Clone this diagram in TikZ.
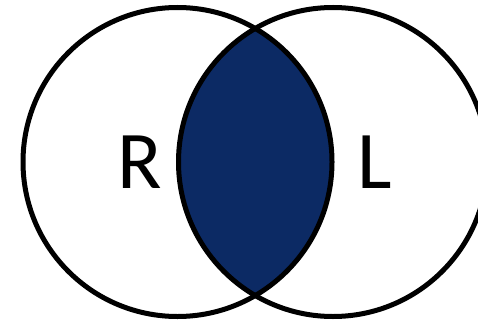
\documentclass[tikz,border=0pt]{standalone}
\usepackage{fontspec}
\setmainfont{Carlito}
\usepackage{xcolor}
\definecolor{lensblue}{RGB}{12,42,100}
\usetikzlibrary{positioning}

\begin{document}
\begin{tikzpicture}[x=1pt, y=-1pt, setline/.style={line width=5pt}, setlabel/.style={font=\fontsize{82}{90}\selectfont, inner sep=0pt}]
  \useasboundingbox (0,0) rectangle (478,323);
  \clip (0,0) rectangle (478,323);
  \coordinate (rc) at (177.5,162);
  \coordinate (lc) at (333,162);
  \begin{scope}
    \clip (rc) circle (154.5);
    \fill[lensblue] (lc) circle (154.5);
  \end{scope}
  \draw[setline] (rc) circle (154.5);
  \draw[setline] (lc) circle (154.5);
  \node[setlabel] (rlab) at (140,162) {R};
  \node[setlabel] (llab) at (375,162) {L};
\end{tikzpicture}
\end{document}
